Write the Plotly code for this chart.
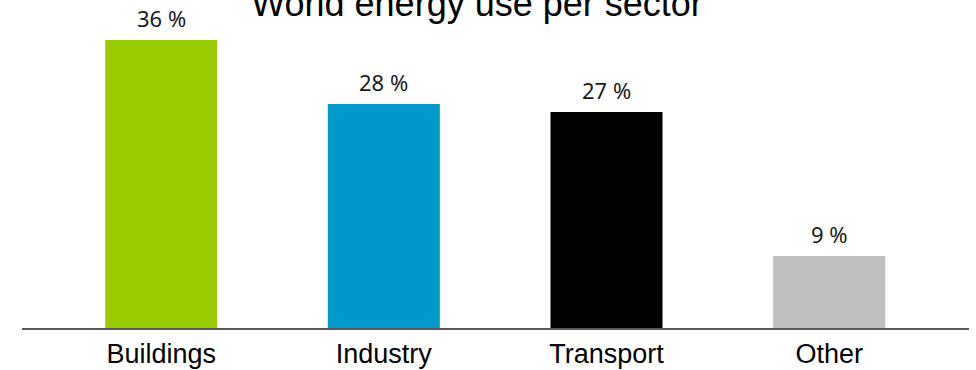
import plotly.graph_objects as go

# Share of world final energy use, by sector (%)
sectors = ["Buildings", "Industry", "Transport", "Other"]
shares = [36, 28, 27, 9]
bar_colors = ["#99CC00", "#0099CC", "#000000", "#C0C0C0"]
value_labels = [f"{v} %" for v in shares]

fig = go.Figure(
    go.Bar(
        x=sectors,
        y=shares,
        marker=dict(color=bar_colors, line=dict(width=0)),
        width=0.503,
        hoverinfo="x+y",
    )
)

# Value labels sit a little above each bar top
for s, v, lab in zip(sectors, shares, value_labels):
    fig.add_annotation(
        x=s,
        y=v,
        text=lab,
        showarrow=False,
        xanchor="center",
        yanchor="bottom",
        yshift=5,
        font=dict(family="Noto Sans", size=22, color="#1a1a1a"),
    )

fig.update_layout(
    width=976,
    height=370,
    margin=dict(l=22, r=7, t=8, b=42, autoexpand=False),
    paper_bgcolor="white",
    plot_bgcolor="white",
    showlegend=False,
    title=dict(
        text="World energy use per sector",
        font=dict(family="Liberation Sans, Arial", size=36, color="#000000"),
        x=477 / 976,
        xanchor="center",
        xref="container",
        y=0.99,
        yanchor="middle",
        yref="container",
    ),
    xaxis=dict(
        range=[-0.625, 3.628],
        automargin=False,
        showline=True,
        linecolor="#5a5a5a",
        linewidth=2,
        ticks="",
        ticklabelstandoff=1,
        showgrid=False,
        zeroline=False,
        tickfont=dict(family="Liberation Sans, Arial", size=27, color="#000000"),
    ),
    yaxis=dict(
        range=[0, 40],
        automargin=False,
        visible=False,
        showgrid=False,
        zeroline=False,
    ),
)

fig.write_html("out.html")
